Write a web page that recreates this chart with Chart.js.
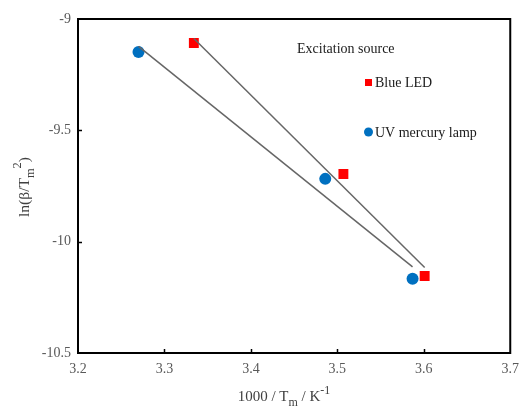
<!DOCTYPE html>
<html>
<head>
<meta charset="utf-8">
<script src="https://cdn.jsdelivr.net/npm/chart.js@4.4.1/dist/chart.umd.min.js"></script>
<style>
  body { margin: 0; background: #fff; }
  canvas { display: block; }
</style>
</head>
<body>
<canvas id="kissinger" width="527" height="412"></canvas>
<script>
// data
const ledX = [3.334, 3.507, 3.601];
const ledY = [-9.108, -9.696, -10.154];
const uvX = [3.270, 3.486, 3.587];
const uvY = [-9.148, -9.718, -10.167];
const xTicks = [3.2, 3.3, 3.4, 3.5, 3.6, 3.7];
const yTicks = [-9, -9.5, -10, -10.5];

const FONT = '"Liberation Serif", "Times New Roman", serif';

// least squares trendline between first and last x
function trend(xs, ys) {
  const n = xs.length;
  const mx = xs.reduce((a, b) => a + b, 0) / n;
  const my = ys.reduce((a, b) => a + b, 0) / n;
  let sxy = 0, sxx = 0;
  for (let i = 0; i < n; i++) {
    sxy += (xs[i] - mx) * (ys[i] - my);
    sxx += (xs[i] - mx) * (xs[i] - mx);
  }
  const k = sxy / sxx;
  const x0 = Math.min(...xs), x1 = Math.max(...xs);
  return [{ x: x0, y: my + k * (x0 - mx) }, { x: x1, y: my + k * (x1 - mx) }];
}

function pts(xs, ys) {
  return xs.map((x, i) => ({ x: x, y: ys[i] }));
}

// draws text pieces with sub/superscripts, returns width
function rich(ctx, parts, x, y, size, measureOnly) {
  let w = 0;
  parts.forEach(p => {
    const s = p.k ? size * 0.8 : size;
    ctx.font = s + 'px ' + FONT;
    const dy = p.k === 'sub' ? size * 0.3 : p.k === 'sup' ? -size * 0.5 : 0;
    if (!measureOnly) ctx.fillText(p.t, x + w, y + dy);
    w += ctx.measureText(p.t).width;
  });
  return w;
}

const decorations = {
  id: 'decorations',
  afterDraw(chart) {
    const ctx = chart.ctx;
    const a = chart.chartArea;
    const xs = chart.scales.x, ys = chart.scales.y;
    ctx.save();

    // frame
    ctx.strokeStyle = '#000';
    ctx.lineWidth = 2;
    ctx.strokeRect(a.left, a.top, a.right - a.left, a.bottom - a.top);

    // inward tick marks
    ctx.lineWidth = 1.5;
    ctx.beginPath();
    xTicks.slice(1, -1).forEach(v => {
      const px = Math.round(xs.getPixelForValue(v)) + 0.5;
      ctx.moveTo(px, a.bottom);
      ctx.lineTo(px, a.bottom - 4);
    });
    yTicks.slice(1, -1).forEach(v => {
      const py = Math.round(ys.getPixelForValue(v)) + 0.5;
      ctx.moveTo(a.left, py);
      ctx.lineTo(a.left + 4, py);
    });
    ctx.stroke();

    // axis titles
    ctx.fillStyle = '#404040';
    ctx.textBaseline = 'alphabetic';
    ctx.textAlign = 'left';
    const xt = [{ t: '1000 / T' }, { t: 'm', k: 'sub' }, { t: ' / K' }, { t: '-1', k: 'sup' }];
    const xw = rich(ctx, xt, 0, 0, 15, true);
    rich(ctx, xt, 284 - xw / 2, 401, 15);

    const yt = [{ t: 'ln(β/T' }, { t: 'm', k: 'sub' }, { t: '2', k: 'sup' }, { t: ')' }];
    const yw = rich(ctx, yt, 0, 0, 15.5, true);
    ctx.translate(29, 187);
    ctx.rotate(-Math.PI / 2);
    rich(ctx, yt, -yw / 2, 0, 15.5);
    ctx.setTransform(1, 0, 0, 1, 0, 0);

    // legend
    ctx.fillStyle = '#1a1a1a';
    ctx.font = '14px ' + FONT;
    ctx.textBaseline = 'middle';
    ctx.fillText('Excitation source', 297, 49);
    ctx.fillStyle = '#ff0000';
    ctx.fillRect(365, 79, 7, 7);
    ctx.fillStyle = '#1a1a1a';
    ctx.fillText('Blue LED', 375, 83);
    ctx.fillStyle = '#0070c0';
    ctx.beginPath();
    ctx.arc(368.5, 132, 4.5, 0, Math.PI * 2);
    ctx.fill();
    ctx.fillStyle = '#1a1a1a';
    ctx.fillText('UV mercury lamp', 375, 133);
    ctx.restore();
  }
};

new Chart(document.getElementById('kissinger'), {
  type: 'scatter',
  data: {
    datasets: [
      {
        label: 'Blue LED fit',
        data: trend(ledX, ledY),
        showLine: true,
        borderColor: '#666666',
        borderWidth: 1.5,
        pointRadius: 0
      },
      {
        label: 'UV fit',
        data: trend(uvX, uvY),
        showLine: true,
        borderColor: '#666666',
        borderWidth: 1.5,
        pointRadius: 0
      },
      {
        label: 'Blue LED',
        data: pts(ledX, ledY),
        pointStyle: 'rect',
        pointRadius: 7,
        backgroundColor: '#ff0000',
        borderColor: '#ff0000',
        borderWidth: 0
      },
      {
        label: 'UV mercury lamp',
        data: pts(uvX, uvY),
        pointStyle: 'circle',
        pointRadius: 6,
        backgroundColor: '#0070c0',
        borderColor: '#0070c0',
        borderWidth: 0
      }
    ]
  },
  options: {
    responsive: false,
    animation: false,
    devicePixelRatio: 1,
    layout: { padding: { top: 19, right: 14, left: 0, bottom: 0 } },
    plugins: {
      legend: { display: false },
      tooltip: { enabled: false }
    },
    scales: {
      x: {
        type: 'linear',
        min: 3.2,
        max: 3.7,
        afterBuildTicks: s => { s.ticks = xTicks.map(v => ({ value: v })); },
        afterFit: s => { s.height = 59; },
        grid: { display: false, drawTicks: false },
        border: { display: false },
        ticks: {
          padding: 8,
          color: '#595959',
          font: { family: FONT, size: 14 },
          callback: v => v.toFixed(1)
        }
      },
      y: {
        type: 'linear',
        min: -10.5,
        max: -9,
        afterBuildTicks: s => { s.ticks = yTicks.map(v => ({ value: v })); },
        afterFit: s => { s.width = 78; },
        grid: { display: false, drawTicks: false },
        border: { display: false },
        ticks: {
          padding: 7,
          color: '#595959',
          font: { family: FONT, size: 14 },
          callback: v => String(v)
        }
      }
    }
  },
  plugins: [decorations]
});
</script>
</body>
</html>
